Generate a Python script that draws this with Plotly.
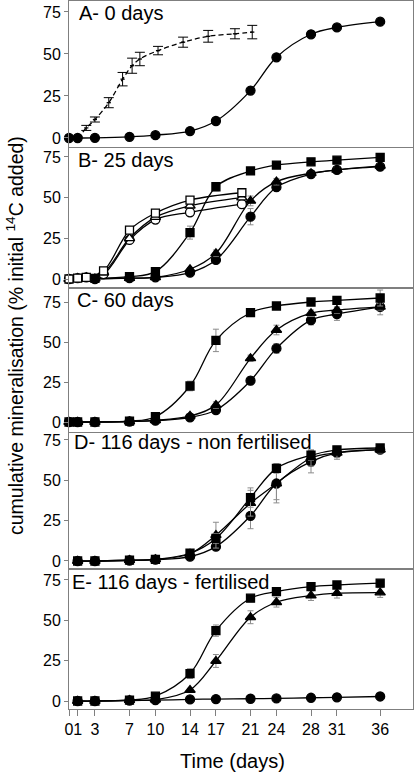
import plotly.graph_objects as go

# ---------------- data ----------------
days = [0, 1, 3, 7, 10, 14, 17, 21, 24, 28, 31, 36]
days_b = [3, 7, 10, 14, 17, 21, 24, 28, 31, 36]
days_de = [1, 3, 7, 10, 14, 17, 21, 24, 28, 31, 36]
x_ticks = [0, 1, 3, 7, 10, 14, 17, 21, 24, 28, 31, 36]
x_ticktext = ["0", "1", "3", "7", "10", "14", "17", "21", "24", "28", "31", "36"]
y_ticks = [0, 25, 50, 75]

# Panel A
a_circ = [0, 0, 0.1, 0.7, 1.7, 4.1, 10.1, 28.2, 48, 61.7, 65.8, 69.2]
a_dash_x = [0, 1, 2, 3, 4.6, 6.2, 7.3, 8.2, 10.3, 13.2, 16.1, 19.2, 21.2]
a_dash_y = [0, 0.5, 6, 11, 21, 35, 43, 47, 52, 57, 60.5, 62, 63]
a_dash_e = [0, 0.5, 1.5, 1.5, 3, 4, 4.5, 4, 2.5, 3, 3.5, 3, 4]

# Panel B
b_sq = [0.4, 1.4, 4.5, 28.5, 56.7, 66.4, 70, 72, 73, 74.8]
b_sq_e = [0, 0, 0.5, 4, 2.5, 1, 1, 1, 1, 1]
b_tri = [0.2, 0.5, 1, 6, 15.8, 48, 59.8, 65, 67, 69.5]
b_tri_e = [0, 0, 0, 1, 2, 3, 2, 1, 1, 1]
b_circ = [0, 0.5, 1, 3.9, 11.7, 38.3, 56.4, 64.5, 67, 69]
b_circ_e = [0, 0, 0, 1, 2, 5, 2, 1, 1, 1]
b_open_x = [0, 1, 2, 4, 7, 10, 14, 20]
b_osq = [0, 0.5, 1, 5, 30, 40.5, 48.5, 53]
b_otri = [0, 0.5, 1, 4, 25, 38, 45, 50]
b_ocirc = [0, 0.5, 1, 3, 24, 36.5, 41, 46]

# Panel C
c_sq = [0, 0, 0, 0.5, 3.3, 22.5, 51, 68.3, 72.5, 75, 76, 77.5]
c_sq_e = [0, 0, 0, 0, 1, 3, 7, 2, 2, 2, 2, 5]
c_tri = [0, 0, 0, 0.3, 1, 3.8, 10.6, 39.8, 57.5, 68, 70, 72]
c_tri_e = [0, 0, 0, 0, 0, 1, 2, 2, 3, 2, 2, 2]
c_circ = [0, 0, 0, 0.3, 0.8, 2.9, 7.5, 25.8, 46, 63.7, 67.5, 72]
c_circ_e = [0, 0, 0, 0, 0, 1, 1.5, 2.5, 3, 3, 4, 5]

# Panel D
d_sq = [0, 0, 0.5, 1, 4.8, 14, 39.3, 57.4, 65.5, 68.8, 70]
d_sq_e = [0, 0, 0, 0, 1, 3, 6, 3, 3, 2, 2]
d_tri = [0, 0, 0.5, 1, 4.5, 16, 35.8, 48, 63.8, 67, 69]
d_tri_e = [0, 0, 0, 0, 1, 8, 8, 10, 5, 3, 2]
d_circ = [0, 0, 0.3, 0.8, 2.7, 8.9, 28, 48, 61.6, 67, 69]
d_circ_e = [0, 0, 0, 0, 1, 2, 8, 12, 7, 4, 2]

# Panel E
e_sq = [0, 0, 0.5, 3, 17, 43.6, 63.7, 67.8, 70.9, 71.9, 73]
e_sq_e = [0, 0, 0, 0.5, 3, 3.5, 1, 1, 1, 1, 1]
e_tri = [0, 0, 0.5, 0.8, 6.8, 24.8, 51.9, 61.2, 65.3, 66.8, 67.2]
e_tri_e = [0, 0, 0, 0, 1, 4, 4, 3, 3, 3, 3]
e_circ = [0, 0, 0.3, 0.5, 1, 1.2, 1.4, 1.6, 2, 2.3, 2.8]

panel_titles = ["A- 0 days", "B- 25 days", "C- 60 days",
                "D- 116 days - non fertilised", "E- 116 days - fertilised"]

# ---------------- layout geometry (pixels) ----------------
W, H = 415, 773
ML, MR, MT, MB = 69, 2, 1, 64
PH = H - MT - MB
PW = W - ML - MR
def py(p):
    return (H - MB - p) / PH
def px(p):
    return (p - ML) / PW

spans = [(1, 147), (148, 288), (288, 432), (433, 569), (569, 709)]
yranges = [(-5.36, 81.5), (-5.53, 80.5), (-6.25, 83.75), (-4.96, 79.3), (-4.96, 81.8)]
title_y = [13.5, 160, 300, 442, 582]
title_x = [77, 76, 75, 72, 70]

fig = go.Figure()
GRAY = "#7f7f7f"
EGRAY = "#8c8c8c"

def add(panel, x, y, symbol, err=None, filled=True, dash=None, ecolor=EGRAY, size=8, ewidth=3):
    ax = "" if panel == 1 else str(panel)
    kw = {}
    if err is not None:
        kw["error_y"] = dict(type="data", array=err, visible=True, color=ecolor,
                             thickness=1, width=ewidth)
    fig.add_trace(go.Scatter(
        x=x, y=y, mode="lines+markers",
        xaxis="x" + ax, yaxis="y" + ax,
        line=dict(color="black", width=1.3, shape="spline", smoothing=1.0,
                  dash=dash if dash else "solid"),
        marker=dict(symbol=symbol, size=size,
                    color="black" if filled else "white",
                    line=dict(color="black", width=1.3)),
        cliponaxis=False, showlegend=False, hoverinfo="skip", **kw))

# A
add(1, a_dash_x, a_dash_y, "line-ew", err=a_dash_e, dash="5px,3px",
    ecolor="black", size=3, ewidth=5)
add(1, days, a_circ, "circle", size=9)
# B
add(2, days_b, b_circ, "circle", err=b_circ_e, size=9)
add(2, days_b, b_tri, "triangle-up", err=b_tri_e, size=9)
add(2, days_b, b_sq, "square", err=b_sq_e, size=8)
add(2, b_open_x, b_ocirc, "circle", filled=False, size=9)
add(2, b_open_x, b_otri, "triangle-up", filled=False, size=9)
add(2, b_open_x, b_osq, "square", filled=False, size=8)
# C
add(3, days, c_circ, "circle", err=c_circ_e, size=9)
add(3, days, c_tri, "triangle-up", err=c_tri_e, size=9)
add(3, days, c_sq, "square", err=c_sq_e, size=8)
# D
add(4, days_de, d_circ, "circle", err=d_circ_e, size=9)
add(4, days_de, d_tri, "triangle-up", err=d_tri_e, size=9)
add(4, days_de, d_sq, "square", err=d_sq_e, size=8)
# E
add(5, days_de, e_circ, "circle", size=9)
add(5, days_de, e_tri, "triangle-up", err=e_tri_e, size=9)
add(5, days_de, e_sq, "square", err=e_sq_e, size=8)

FONT = "Liberation Sans, Arial, sans-serif"
layout = dict(
    width=W, height=H, margin=dict(l=ML, r=MR, t=MT, b=MB, autoexpand=False),
    paper_bgcolor="white", plot_bgcolor="white",
    font=dict(family=FONT, size=16, color="black"),
    showlegend=False, hovermode=False,
)
annotations = []
for i in range(5):
    n = i + 1
    ax = "" if n == 1 else str(n)
    top, bot = spans[i]
    last = (n == 5)
    xa = dict(
        domain=[0, 1], range=[0, 39.8], anchor="y" + ax,
        showline=True, mirror=True, linecolor=GRAY, linewidth=1,
        showgrid=False, zeroline=False, automargin=False,
        tickvals=x_ticks, showticklabels=last, tickangle=0,
        ticks="outside" if last else "", ticklen=6, tickcolor=GRAY,
        tickfont=dict(size=16),
    )
    if last:
        xa["ticktext"] = x_ticktext
    layout["xaxis" + ax] = xa
    layout["yaxis" + ax] = dict(
        domain=[py(bot), py(top)], range=list(yranges[i]), anchor="x" + ax,
        showline=True, mirror=True, linecolor=GRAY, linewidth=1,
        showgrid=False, zeroline=False, automargin=False,
        tickvals=y_ticks, ticks="outside", ticklen=4, tickcolor=GRAY,
        tickfont=dict(size=16),
    )
    annotations.append(dict(
        text=panel_titles[i], xref="paper", yref="paper",
        x=px(title_x[i]), y=py(title_y[i]),
        xanchor="left", yanchor="middle", showarrow=False,
        font=dict(size=20, family=FONT, color="black")))

annotations.append(dict(
    text="Time (days)", xref="paper", yref="paper",
    x=px(232), y=py(761), xanchor="center", yanchor="middle",
    showarrow=False, font=dict(size=20, family=FONT, color="black")))
annotations.append(dict(
    text="cumulative mineralisation (% initial <sup>14</sup>C added)",
    xref="paper", yref="paper", x=px(15), y=py(336),
    xanchor="center", yanchor="middle", textangle=-90, showarrow=False,
    font=dict(size=19.5, family=FONT, color="black")))
layout["annotations"] = annotations
fig.update_layout(**layout)
fig.write_html("out.html", config={"displayModeBar": False, "staticPlot": True},
               post_script="document.body.style.margin='0';document.body.style.overflow='hidden';")
